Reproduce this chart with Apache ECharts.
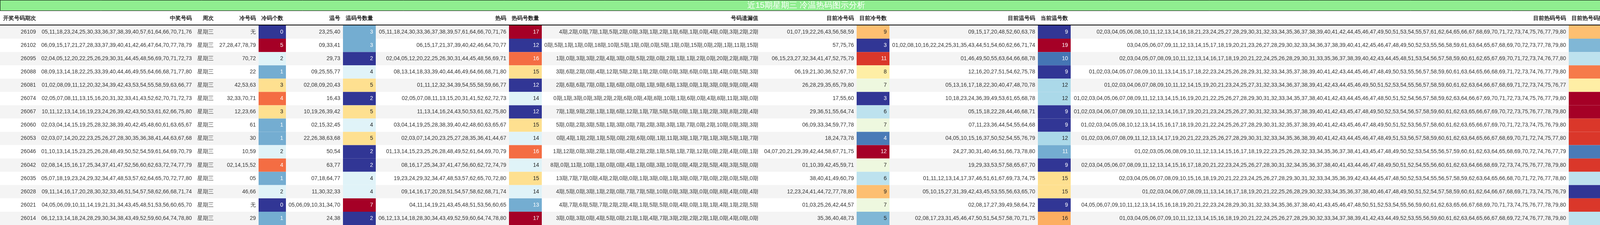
<!DOCTYPE html>
<html><head><meta charset="utf-8">
<script src="https://cdn.jsdelivr.net/npm/echarts@6/dist/echarts.min.js"></script>
<style>html,body{margin:0;padding:0;background:#fff}#c{width:4129px;height:576px}</style>
</head><body><div id="c"></div>
<script>
const title = '近15期星期三 冷温热码图示分析';
const headers = ['开奖号码期次','中奖号码','周次','冷号码','冷码个数','温号','温码号数量','热码','热码号数量','号码遗漏值','目前冷号码','目前冷号数','目前温号码','当前温号数','目前热码号码','目前热号码数量'];
const periods = ['26109','26102','26095','26088','26081','26074','26067','26060','26053','26046','26042','26035','26028','26021','26014'];
const winNums = ['05,11,18,23,24,25,30,33,36,37,38,39,40,57,61,64,66,70,71,76','06,09,15,17,21,27,28,33,37,39,40,41,42,46,47,64,70,77,78,79','02,04,05,12,20,22,25,26,29,30,31,44,45,48,56,69,70,71,72,73','08,09,13,14,18,22,25,33,39,40,44,46,49,55,64,66,68,71,77,80','01,02,08,09,11,12,20,32,34,39,42,43,53,54,55,58,59,63,66,77','02,05,07,08,11,13,15,16,20,31,32,33,41,43,52,62,70,71,72,73','10,11,12,13,14,16,19,23,24,26,39,42,43,50,53,61,62,66,75,80','02,03,04,14,15,19,25,28,32,38,39,40,42,45,48,60,61,63,65,67','02,03,07,14,20,22,23,25,26,27,28,30,35,36,38,41,44,63,67,68','01,10,13,14,15,23,25,26,28,48,49,50,52,54,59,61,64,69,70,79','02,08,14,15,16,17,25,34,37,41,47,52,56,60,62,63,72,74,77,79','05,07,18,19,23,24,29,32,34,47,48,53,57,62,64,65,70,72,77,80','09,11,14,16,17,20,28,30,32,33,46,51,54,57,58,62,66,68,71,74','04,05,06,09,10,11,14,19,21,31,34,43,45,48,51,53,56,60,65,70','06,12,13,14,18,24,28,29,30,34,38,43,49,52,59,60,64,74,78,80'];
const weekday = Array(15).fill('星期三');
const coldNums = ['无','27,28,47,78,79','70,72','22','42,53,63','32,33,70,71','12,23,66','61','30','10,59','02,14,15,52','05','46,66','无','29'];
const coldCount = [0,5,2,1,3,4,3,1,1,2,4,1,2,0,1];
const warmNums = ['23,25,40','09,33,41','29,73','09,25,55,77','02,08,09,20,43','16,43','10,19,26,39,42','02,15,32,45','22,26,38,63,68','50,54','63,77','07,18,64,77','11,30,32,33','05,06,09,10,31,34,70','24,38'];
const warmCount = [3,3,2,4,5,2,5,4,5,2,2,4,4,7,2];
const hotNums = ['05,11,18,24,30,33,36,37,38,39,57,61,64,66,70,71,76','06,15,17,21,37,39,40,42,46,64,70,77','02,04,05,12,20,22,25,26,30,31,44,45,48,56,69,71','08,13,14,18,33,39,40,44,46,49,64,66,68,71,80','01,11,12,32,34,39,54,55,58,59,66,77','02,05,07,08,11,13,15,20,31,41,52,62,72,73','11,13,14,16,24,43,50,53,61,62,75,80','03,04,14,19,25,28,38,39,40,42,48,60,63,65,67','02,03,07,14,20,23,25,27,28,35,36,41,44,67','01,13,14,15,23,25,26,28,48,49,52,61,64,69,70,79','08,16,17,25,34,37,41,47,56,60,62,72,74,79','19,23,24,29,32,34,47,48,53,57,62,65,70,72,80','09,14,16,17,20,28,51,54,57,58,62,68,71,74','04,11,14,19,21,43,45,48,51,53,56,60,65','06,12,13,14,18,28,30,34,43,49,52,59,60,64,74,78,80'];
const hotCount = [17,12,16,15,12,14,12,15,14,16,14,15,14,13,17];
const missVals = ['4期,2期,0期,7期,1期,5期,2期,0期,3期,1期,2期,1期,6期,1期,0期,4期,0期,3期,2期,2期','0期,5期,1期,1期,0期,18期,10期,5期,1期,0期,0期,5期,1期,0期,15期,0期,2期,1期,11期,15期','1期,0期,3期,3期,2期,4期,3期,0期,5期,2期,0期,2期,1期,1期,2期,0期,20期,2期,8期,7期','3期,6期,2期,0期,4期,12期,5期,2期,1期,2期,0期,0期,3期,6期,0期,1期,4期,0期,5期,3期','2期,6期,6期,7期,0期,1期,6期,0期,0期,1期,9期,6期,13期,0期,1期,3期,0期,9期,0期,4期','0期,1期,3期,0期,3期,2期,2期,6期,0期,4期,8期,10期,1期,6期,0期,4期,8期,11期,3期,0期','7期,1期,9期,2期,1期,1期,6期,12期,1期,7期,5期,5期,0期,1期,1期,2期,3期,8期,2期,4期','5期,0期,2期,3期,5期,1期,3期,0期,7期,2期,3期,3期,1期,7期,0期,2期,10期,0期,3期,3期','0期,4期,1期,2期,1期,5期,0期,2期,6期,0期,1期,11期,3期,1期,7期,1期,3期,5期,1期,7期','1期,12期,0期,3期,2期,1期,0期,4期,2期,2期,1期,5期,1期,7期,12期,0期,2期,4期,0期,1期','8期,0期,11期,10期,1期,0期,0期,4期,1期,0期,3期,10期,0期,4期,2期,5期,4期,3期,5期,0期','13期,7期,7期,0期,4期,2期,0期,0期,1期,3期,0期,1期,3期,0期,7期,0期,2期,0期,5期,0期','4期,5期,0期,3期,1期,2期,0期,7期,7期,5期,10期,0期,3期,3期,0期,0期,8期,4期,0期,4期','4期,7期,6期,5期,7期,2期,2期,4期,1期,5期,5期,0期,4期,0期,1期,1期,4期,1期,2期,5期','3期,0期,3期,0期,4期,5期,0期,21期,1期,4期,7期,3期,2期,2期,2期,1期,0期,4期,0期,0期'];
const curCold = ['01,07,19,22,26,43,56,58,59','57,75,76','06,15,23,27,32,34,41,47,52,75,79','06,19,21,30,36,52,67,70','26,28,29,35,65,79,80','17,55,60','29,36,51,55,64,74','06,09,33,34,59,77,78','18,24,73,78','04,07,20,21,29,39,42,44,58,67,71,75','01,10,39,42,45,59,71','38,40,41,49,60,79','12,23,24,41,44,72,77,78,80','01,03,25,26,42,44,57','35,36,40,48,73'];
const curColdCount = [9,3,11,8,7,3,6,7,4,12,7,6,9,7,5];
const curWarm = ['09,15,17,20,48,52,60,63,78','01,02,08,10,16,22,24,25,31,35,43,44,51,54,60,62,66,71,74','01,46,49,50,55,63,64,66,68,78','12,16,20,27,51,54,62,75,78','05,13,16,17,18,22,30,40,47,48,70,78','10,18,23,24,36,39,49,53,61,65,68,78','05,15,18,22,28,44,46,68,71','07,11,23,36,44,54,55,64,68','04,05,10,15,16,37,50,52,54,55,76,79','24,27,30,31,40,46,51,66,73,78,80','19,29,33,53,57,58,65,67,70','01,11,12,13,14,17,37,46,51,61,67,69,73,74,75','05,10,15,27,31,39,42,43,45,53,55,56,63,65,70','02,08,17,27,39,49,58,64,72','02,08,17,23,31,45,46,47,50,51,54,57,58,70,71,75'];
const curWarmCount = [9,19,10,9,12,12,9,9,12,11,9,15,15,9,16];
const curHotCount = [62,58,59,63,61,65,65,64,64,57,64,59,56,64,59];
// 目前热码号码 = the numbers 01-80 that are neither current cold nor current warm (as shown in the table)
const curHot = curCold.map((c, i) => {
  const s = new Set((c + ',' + curWarm[i]).split(','));
  const out = [];
  for (let n = 1; n <= 80; n++) { const k = String(n).padStart(2, '0'); if (!s.has(k)) out.push(k); }
  return out.join(',');
});

const cols = [
  {v: periods}, {v: winNums}, {v: weekday}, {v: coldNums}, {v: coldCount, c: 1},
  {v: warmNums}, {v: warmCount, c: 1}, {v: hotNums}, {v: hotCount, c: 1}, {v: missVals},
  {v: curCold}, {v: curColdCount, c: 1}, {v: curWarm}, {v: curWarmCount, c: 1}, {v: curHot}, {v: curHotCount, c: 1}
];
const edges = [0,99,498,554,662,732,878,962,1303,1387,1948,2193,2277,2657,2741,4016,4128];
const palette = ['#313695','#4575b4','#74add1','#abd9e9','#e0f3f8','#ffffbf','#fee090','#fdae61','#f46d43','#d73027','#a50026'];
function hex(h){return [1,3,5].map(i=>parseInt(h.substr(i,2),16));}
function colorAt(t){
  const p = Math.max(0, Math.min(1, t)) * 10, i = Math.min(9, Math.floor(p)), f = p - i;
  const a = hex(palette[i]), b = hex(palette[i+1]);
  return 'rgb(' + a.map((x,k)=>Math.round(x+(b[k]-x)*f)).join(',') + ')';
}
const data = [];
for (let r = 0; r < 15; r++) for (let c = 0; c < cols.length; c++) data.push([c, r]);

const chart = echarts.init(document.getElementById('c'), null, {renderer: 'canvas'});
const FONT = 'Liberation Sans, Arial, sans-serif';
const graphics = [
  {type: 'rect', shape: {x: 0.5, y: 0.5, width: 4127, height: 27}, style: {fill: '#90ee90', stroke: '#000', lineWidth: 1}},
  {type: 'text', x: 2064, y: 14, style: {text: title, fill: '#fff', font: '21px ' + FONT, align: 'center', verticalAlign: 'middle'}},
  {type: 'line', shape: {x1: 0, y1: 64, x2: 4129, y2: 64}, style: {stroke: '#000', lineWidth: 2}, z: 10}
];
headers.forEach((h, i) => {
  graphics.push({type: 'text', x: i === 0 ? 8 : edges[i+1] - 7, y: 47,
    style: {text: h, fill: '#222', font: 'bold 14px ' + FONT, align: i === 0 ? 'left' : 'right', verticalAlign: 'middle'}});
});

chart.setOption({
  animation: false,
  graphic: graphics,
  grid: {left: 0, right: 0, top: 65, bottom: 0},
  xAxis: {type: 'value', min: 0, max: 4129, show: false},
  yAxis: {type: 'category', data: periods, inverse: true, show: false},
  series: [{
    type: 'custom',
    data: data,
    renderItem: function (params, api) {
      const c = api.value(0), r = api.value(1);
      const p0 = api.coord([edges[c], r]), p1 = api.coord([edges[c+1], r]);
      const h = api.size([0, 1])[1];
      const col = cols[c];
      const val = col.v[r];
      let fill = r % 2 === 0 ? '#f4f4f4' : '#ffffff', txt = '#333';
      if (col.c) {
        const mn = Math.min(...col.v), mx = Math.max(...col.v);
        const t = (val - mn) / (mx - mn);
        fill = colorAt(t);
        txt = (t <= 0.2 || t >= 0.75) ? '#fff' : '#222';
      }
      return {type: 'group', children: [
        {type: 'rect', shape: {x: p0[0], y: p0[1] - h/2, width: p1[0] - p0[0], height: h}, style: {fill: fill}},
        {type: 'text', x: p1[0] - 7, y: p0[1], style: {text: String(val), fill: txt, font: '14px ' + FONT, align: 'right', verticalAlign: 'middle'}}
      ]};
    }
  }]
});
</script></body></html>
